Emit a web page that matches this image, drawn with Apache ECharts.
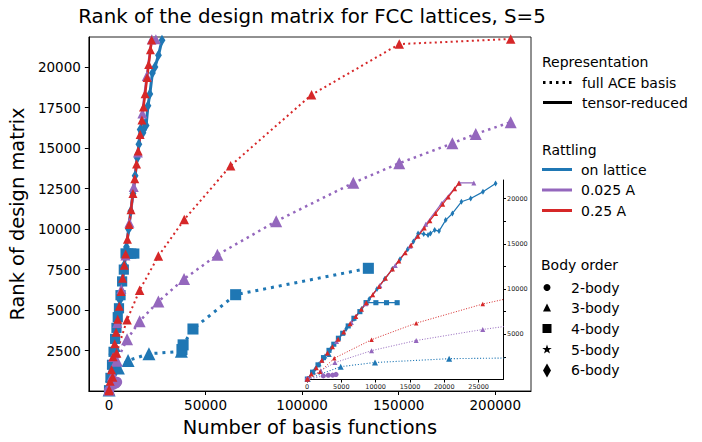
<!DOCTYPE html>
<html><head><meta charset="utf-8">
<script src="https://cdn.jsdelivr.net/npm/echarts/dist/echarts.min.js"></script>
<style>html,body{margin:0;padding:0;background:#fff}#c{width:702px;height:442px}</style>
</head><body><div id="c"></div>
<script>
// ---------------- data ----------------
// Full ACE basis (dotted lines)
const fullOnLatticeBasis = [100, 4900, 9900, 20700, 37500, 37800, 38400, 43500, 65600, 134300];
const fullOnLatticeRank  = [60, 1420, 1880, 2300, 2450, 2560, 2850, 3830, 5950, 7580];
const fullOnLatticeBody  = [3, 3, 3, 3, 3, 4, 4, 4, 4, 4];

const fullSmallRattle2Basis = [100, 2370, 3100, 3730, 4220];
const fullSmallRattle2Rank  = [40, 400, 470, 480, 560];

const fullSmallRattle3Basis = [100, 2000, 4070, 9400, 15900, 25600, 38900, 56150, 86600, 126500, 150300, 177800, 189900, 208000];
const fullSmallRattle3Rank  = [80, 980, 1870, 3190, 4310, 5530, 6920, 8410, 10490, 12860, 14070, 15300, 15880, 16610];

const fullLargeRattleBasis = [100, 1900, 3970, 9400, 15900, 25600, 39000, 63000, 104900, 150300, 208000];
const fullLargeRattleRank  = [90, 870, 2350, 4400, 6230, 8340, 10590, 13920, 18300, 21430, 21750];

// Tensor-reduced (solid lines)
const trOnLattice3Basis = [50, 900, 1750, 2600, 3240];
const trOnLattice3Rank  = [50, 900, 1750, 2600, 2750];

const trOnLattice4Basis = [50, 800, 1600, 2400, 3200, 3900, 4570, 5200, 6000, 6830, 7700, 8600, 10030, 11580, 13130];
const trOnLattice4Rank  = [50, 810, 1620, 2420, 3220, 3900, 4560, 5110, 5920, 6770, 7500, 8500, 8490, 8490, 8490];

const trOnLattice6Basis = [50, 1230, 2350, 3470, 4590, 5710, 6830, 7950, 9070, 10190, 11310, 12430, 13550, 14670, 15500, 16180, 17000, 17630, 17980, 18600, 19230, 20200, 21180, 22490, 23840, 25630, 27470];
const trOnLattice6Rank  = [50, 1200, 2300, 3400, 4500, 5600, 6700, 7800, 8900, 10000, 11100, 12200, 13300, 14400, 15250, 16150, 16080, 15960, 16150, 16510, 16400, 17620, 18350, 19640, 20010, 20740, 21670];

const trSmallRattleBasis = [100, 2150, 4300, 6450, 8550, 10600, 12850, 15000, 17300, 19600, 22200, 24300];
const trSmallRattleRank  = [100, 2100, 4200, 6300, 8370, 10390, 12610, 14730, 17150, 19460, 21730, 21730];

const trLargeRattleBasis = [20, 620, 1340, 2160, 2980, 3700, 4530, 5340, 6270, 7100, 7930, 8640, 9570, 10500, 11420, 12440, 13370, 14300, 15130, 16160, 17080, 17900, 18730, 19760, 20570, 21500, 22100];
const trLargeRattleRank  = [20, 605, 1310, 2120, 2920, 3630, 4440, 5240, 6150, 6960, 7770, 8470, 9380, 10290, 11200, 12200, 13110, 14020, 14830, 15840, 16740, 17550, 18360, 19370, 20170, 21080, 21690];

const mainXTicks = [0, 50000, 100000, 150000, 200000];
const mainYTicks = [2500, 5000, 7500, 10000, 12500, 15000, 17500, 20000];
const insetXTicks = [0, 5000, 10000, 15000, 20000, 25000];
const insetYTicks = [2500, 5000, 7500, 10000, 12500, 15000, 17500, 20000];

// ---------------- styles ----------------
const BLUE = '#1f77b4', PURPLE = '#9467bd', RED = '#d62728';
const FONT = 'DejaVu Sans';
const STAR = 'path://M0,-1L0.2245,-0.309L0.951,-0.309L0.363,0.118L0.588,0.809L0,0.382L-0.588,0.809L-0.363,0.118L-0.951,-0.309L-0.2245,-0.309Z';
const SYMBOL = {2: 'circle', 3: 'triangle', 4: 'rect', 5: STAR, 6: 'diamond'};
function symSize(body, s) {
  if (body === 6) return [s * 0.62, s];
  if (body === 2) return s * 0.85;
  if (body === 4) return s * 0.85;
  return s;
}

const defs = [
  {x: trOnLattice6Basis, y: trOnLattice6Rank, body: 6, color: BLUE, dotted: false, lw: [3, 1.2], size: [11, 6]},
  {x: trOnLattice4Basis, y: trOnLattice4Rank, body: 4, color: BLUE, dotted: false, lw: [3, 1.2], size: [12, 6]},
  {x: trOnLattice3Basis, y: trOnLattice3Rank, body: 3, color: BLUE, dotted: false, lw: [3, 1.2], size: [11, 5]},
  {x: fullOnLatticeBasis, y: fullOnLatticeRank, body: fullOnLatticeBody, color: BLUE, dotted: true, lw: [3, 1.1], size: [13, 6]},
  {x: fullSmallRattle2Basis, y: fullSmallRattle2Rank, body: 2, color: PURPLE, dotted: true, lw: [2.5, 1.1], size: [12, 6]},
  {x: fullSmallRattle3Basis, y: fullSmallRattle3Rank, body: 3, color: PURPLE, dotted: true, lw: [2.5, 1], size: [12, 5]},
  {x: trSmallRattleBasis, y: trSmallRattleRank, body: 3, color: PURPLE, dotted: false, lw: [2.5, 1.2], size: [10, 5]},
  {x: fullLargeRattleBasis, y: fullLargeRattleRank, body: 3, color: RED, dotted: true, lw: [2, 1], size: [9.5, 4.5]},
  {x: trLargeRattleBasis, y: trLargeRattleRank, body: 3, color: RED, dotted: false, lw: [2.5, 1.2], size: [9, 5]}
];

function mk(d, inset) {
  const k = inset ? 1 : 0;
  const w = d.lw[k];
  const data = d.x.map((x, i) => {
    const b = Array.isArray(d.body) ? d.body[i] : d.body;
    return {value: [x, d.y[i]], symbol: SYMBOL[b], symbolSize: symSize(b, d.size[k])};
  });
  return {
    type: 'line', xAxisIndex: k, yAxisIndex: k, data,
    showAllSymbol: true, silent: true, animation: false, clip: true,
    lineStyle: {color: d.color, width: w, type: d.dotted ? [w, w * 1.65] : 'solid', cap: 'butt'},
    itemStyle: {color: d.color, borderWidth: 0, opacity: 1},
    z: inset ? 3 : 2
  };
}

const series = [];
defs.forEach(d => series.push(mk(d, false)));
defs.forEach(d => series.push(mk(d, true)));

// ---------------- legend (graphic) ----------------
const graphic = [];
function txt(s, x, y, fs, align) {
  graphic.push({type: 'text', x, y, silent: true,
    style: {text: s, fontSize: fs, fontFamily: FONT, fill: '#000', align: align || 'left', verticalAlign: 'middle'}});
}
function ln(x1, x2, y, color, dash) {
  graphic.push({type: 'line', silent: true, shape: {x1, y1: y, x2, y2: y},
    style: {stroke: color, lineWidth: 3, lineDash: dash || null, lineCap: 'butt'}});
}
txt('Rank of the design matrix for FCC lattices, S=5', 312, 16, 19.8, 'center');
const LFS = 14;
txt('Representation', 542, 62, LFS);
ln(543, 572, 82.5, '#000', [2.5, 4]);
txt('full ACE basis', 582, 82.5, LFS);
ln(543, 572, 102.5, '#000');
txt('tensor-reduced', 582, 102.5, LFS);
txt('Rattling', 542, 150, LFS);
ln(542, 572, 169.5, BLUE); txt('on lattice', 581, 169.5, LFS);
ln(542, 572, 190, PURPLE); txt('0.025 A', 581, 190, LFS);
ln(542, 572, 210.5, RED); txt('0.25 A', 581, 210.5, LFS);
txt('Body order', 541, 264.5, LFS);
const mx = 547;
graphic.push({type: 'circle', silent: true, shape: {cx: mx, cy: 287.5, r: 3.5}, style: {fill: '#000'}});
graphic.push({type: 'polygon', silent: true, shape: {points: [[mx, 303.5], [mx - 4, 311.5], [mx + 4, 311.5]]}, style: {fill: '#000'}});
graphic.push({type: 'rect', silent: true, shape: {x: mx - 4.5, y: 324, width: 9, height: 9}, style: {fill: '#000'}});
(function () {
  const pts = [];
  for (let i = 0; i < 10; i++) {
    const r = i % 2 === 0 ? 5 : 2;
    const a = -Math.PI / 2 + i * Math.PI / 5;
    pts.push([mx + r * Math.cos(a), 349.5 + r * Math.sin(a)]);
  }
  graphic.push({type: 'polygon', silent: true, shape: {points: pts}, style: {fill: '#000'}});
})();
graphic.push({type: 'polygon', silent: true, shape: {points: [[mx, 363.5], [mx + 4, 370.5], [mx, 377.5], [mx - 4, 370.5]]}, style: {fill: '#000'}});
['2-body', '3-body', '4-body', '5-body', '6-body'].forEach((s, i) => txt(s, 571, [287.5, 308, 328.5, 349.5, 370][i], LFS));

// ---------------- chart ----------------
const chart = echarts.init(document.getElementById('c'), null, {renderer: 'svg'});
const axLine = {show: true, onZero: false, lineStyle: {color: '#000', width: 1}};
const plain = v => String(v);
chart.setOption({
  animation: false,
  backgroundColor: '#fff',
  textStyle: {fontFamily: FONT},
  grid: [
    {left: 88, right: 171, top: 37, bottom: 45, show: true, borderColor: '#222', borderWidth: 1},
    {left: 306, right: 199, top: 180, bottom: 62.5}
  ],
  xAxis: [
    {type: 'value', gridIndex: 0, min: -10400, max: 218500,
     axisLine: axLine, splitLine: {show: false},
     axisTick: {show: true, length: 4, customValues: mainXTicks, lineStyle: {color: '#000'}},
     axisLabel: {customValues: mainXTicks, color: '#000', fontSize: 13.5, fontFamily: FONT, margin: 7, formatter: plain},
     name: 'Number of basis functions', nameLocation: 'middle', nameGap: 27,
     nameTextStyle: {fontSize: 19.4, fontFamily: FONT, color: '#000'}},
    {type: 'value', gridIndex: 1, min: -150, max: 28550,
     axisLine: axLine, splitLine: {show: false},
     axisTick: {show: true, length: 3, customValues: insetXTicks, lineStyle: {color: '#000'}},
     axisLabel: {customValues: insetXTicks, color: '#222', fontSize: 6.5, fontFamily: FONT, margin: 4, formatter: plain}}
  ],
  yAxis: [
    {type: 'value', gridIndex: 0, min: 0, max: 21870,
     axisLine: axLine, splitLine: {show: false},
     axisTick: {show: true, length: 4, customValues: mainYTicks, lineStyle: {color: '#000'}},
     axisLabel: {customValues: mainYTicks, color: '#000', fontSize: 13.5, fontFamily: FONT, margin: 8, formatter: plain},
     name: 'Rank of design matrix', nameLocation: 'middle', nameGap: 49, nameRotate: 90,
     nameTextStyle: {fontSize: 19.4, fontFamily: FONT, color: '#000'}},
    {type: 'value', gridIndex: 1, min: 0, max: 22050, position: 'right',
     axisLine: axLine, splitLine: {show: false},
     axisTick: {show: true, length: 3, customValues: insetYTicks, lineStyle: {color: '#000'}},
     axisLabel: {customValues: insetYTicks, color: '#222', fontSize: 6.5, fontFamily: FONT, margin: 4,
       formatter: v => (v % 5000 === 0 ? String(v) : '')}}
  ],
  graphic,
  series
});
</script>
</body></html>
